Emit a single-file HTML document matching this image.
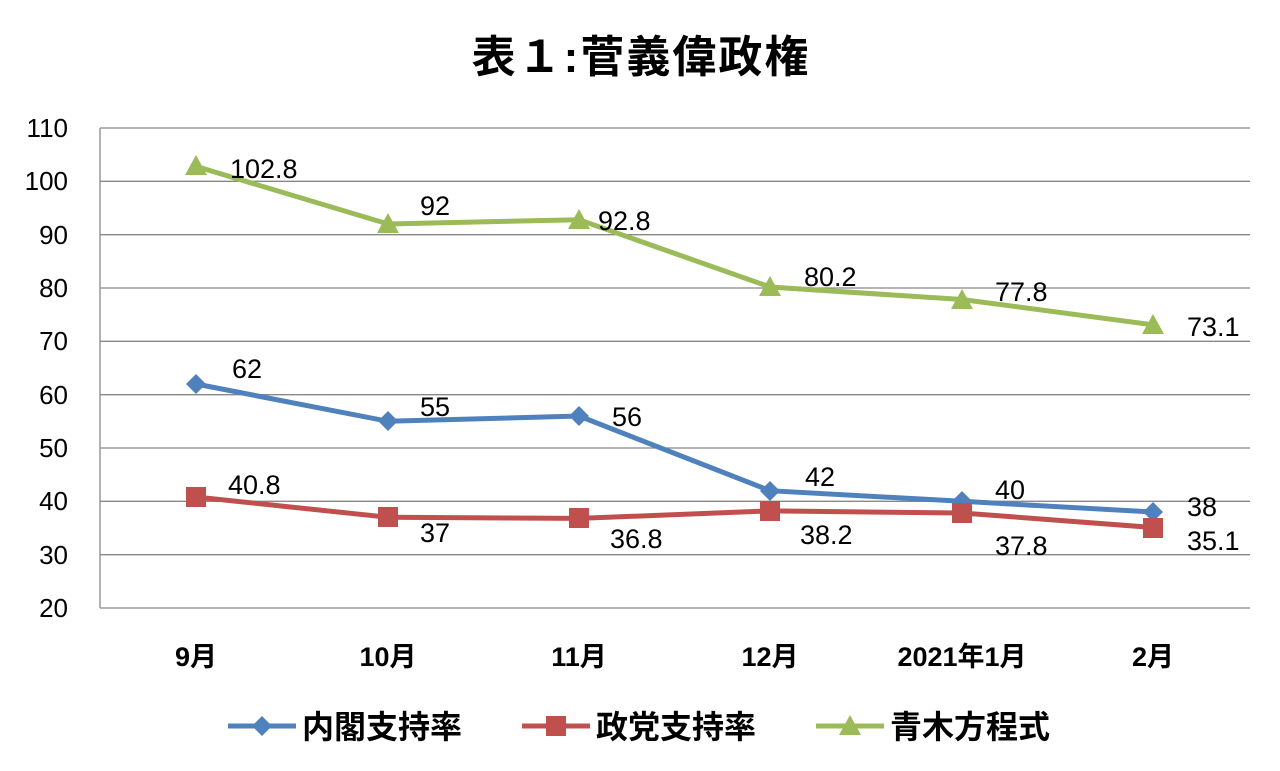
<!DOCTYPE html>
<html><head><meta charset="utf-8"><style>
body{margin:0;background:#fff;}
svg{display:block;}
text{font-family:"Liberation Sans","Noto Sans CJK JP",sans-serif;fill:#000;}
</style></head><body>
<svg width="1280" height="771" viewBox="0 0 1280 771">
<text x="641" y="72" font-size="44" font-weight="bold" text-anchor="middle" letter-spacing="2">表１:菅義偉政権</text>
<g stroke="#888" stroke-width="1.3">
<line x1="100" y1="128" x2="1250" y2="128"/><line x1="100" y1="181.3" x2="1250" y2="181.3"/>
<line x1="100" y1="234.7" x2="1250" y2="234.7"/><line x1="100" y1="288" x2="1250" y2="288"/>
<line x1="100" y1="341.3" x2="1250" y2="341.3"/><line x1="100" y1="394.7" x2="1250" y2="394.7"/>
<line x1="100" y1="448" x2="1250" y2="448"/><line x1="100" y1="501.3" x2="1250" y2="501.3"/>
<line x1="100" y1="554.7" x2="1250" y2="554.7"/><line x1="100" y1="608" x2="1250" y2="608"/>
<line x1="100" y1="128" x2="100" y2="608"/>
</g>
<g font-size="26" text-anchor="end">
<text x="68" y="137">110</text><text x="68" y="190">100</text><text x="68" y="244">90</text>
<text x="68" y="297">80</text><text x="68" y="350">70</text><text x="68" y="404">60</text>
<text x="68" y="457">50</text><text x="68" y="510">40</text><text x="68" y="564">30</text><text x="68" y="617">20</text>
</g>
<g font-size="27" font-weight="bold" text-anchor="middle">
<text x="196" y="666">9月</text><text x="388" y="666">10月</text><text x="579" y="666">11月</text>
<text x="770" y="666">12月</text><text x="962" y="666">2021年1月</text><text x="1153" y="666">2月</text>
</g>
<polyline fill="none" stroke="#9bbb59" stroke-width="5" points="196,166.4 388,224 579,219.7 770,287 962,299.5 1153,324.8"/>
<polyline fill="none" stroke="#4f81bd" stroke-width="5" points="196,384 388,421.3 579,416 770,490.7 962,501.3 1153,512"/>
<polyline fill="none" stroke="#c0504d" stroke-width="5" points="196,497 388,517.3 579,518.4 770,510.9 962,513 1153,527.5"/>
<g fill="#9bbb59">
<polygon points="196,155 207,175 185,175"/><polygon points="388,213 399,233 377,233"/><polygon points="579,209 590,229 568,229"/>
<polygon points="770,276 781,296 759,296"/><polygon points="962,289 973,309 951,309"/><polygon points="1153,314 1164,334 1142,334"/>
</g>
<g fill="#4f81bd">
<polygon points="196,374 206,384 196,394 186,384"/><polygon points="388,411 398,421 388,431 378,421"/>
<polygon points="579,406 589,416 579,426 569,416"/><polygon points="770,481 780,491 770,501 760,491"/>
<polygon points="962,491 972,501 962,511 952,501"/><polygon points="1153,502 1163,512 1153,522 1143,512"/>
</g>
<g fill="#c0504d">
<rect x="186" y="487" width="20" height="20"/><rect x="378" y="507" width="20" height="20"/>
<rect x="569" y="508" width="20" height="20"/><rect x="760" y="501" width="20" height="20"/>
<rect x="952" y="503" width="20" height="20"/><rect x="1143" y="518" width="20" height="20"/>
</g>
<g font-size="27">
<text x="230" y="178">102.8</text><text x="420" y="215">92</text><text x="598" y="230">92.8</text>
<text x="804" y="286">80.2</text><text x="995" y="301">77.8</text><text x="1187" y="336">73.1</text>
<text x="232" y="378">62</text><text x="420" y="416">55</text><text x="612" y="426">56</text>
<text x="805" y="486">42</text><text x="995" y="499">40</text><text x="1187" y="516">38</text>
<text x="228" y="494">40.8</text><text x="420" y="542">37</text><text x="610" y="548">36.8</text>
<text x="800" y="544">38.2</text><text x="995" y="555">37.8</text><text x="1187" y="550">35.1</text>
</g>
<g font-size="32" font-weight="bold">
<line x1="228" y1="726" x2="296" y2="726" stroke="#4f81bd" stroke-width="5"/>
<polygon points="262,716 272,726 262,736 252,726" fill="#4f81bd"/>
<text x="302" y="738">内閣支持率</text>
<line x1="522" y1="726" x2="590" y2="726" stroke="#c0504d" stroke-width="5"/>
<rect x="546" y="716" width="20" height="20" fill="#c0504d"/>
<text x="596" y="738">政党支持率</text>
<line x1="816" y1="726" x2="884" y2="726" stroke="#9bbb59" stroke-width="5"/>
<polygon points="850,715 861,735 839,735" fill="#9bbb59"/>
<text x="890" y="738">青木方程式</text>
</g>
</svg>
</body></html>
